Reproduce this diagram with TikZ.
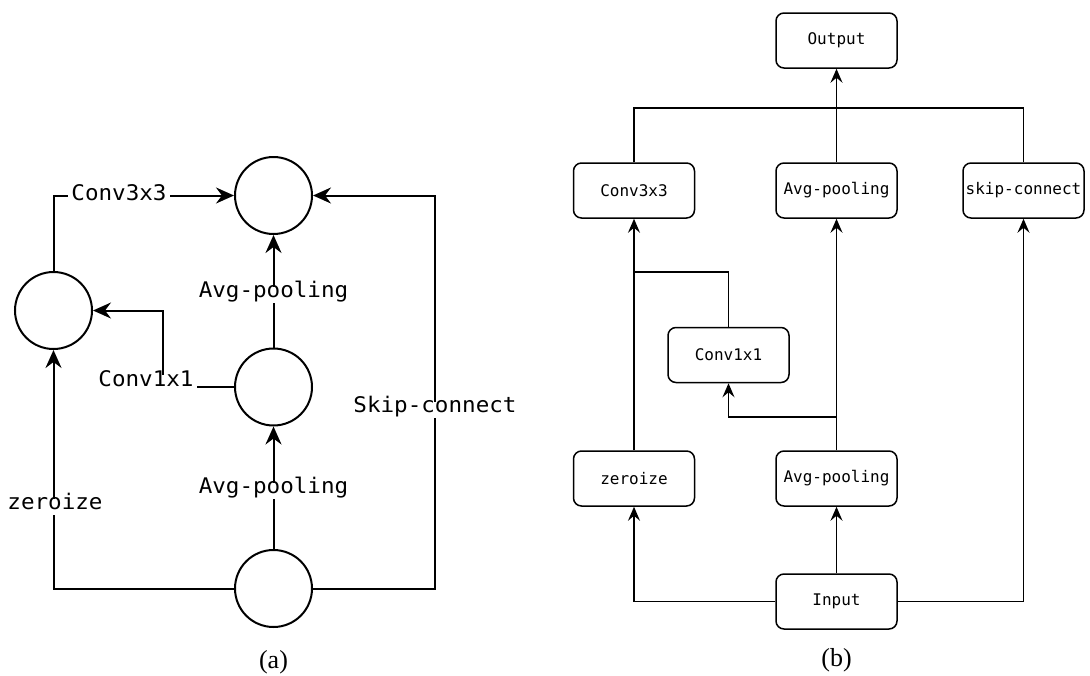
\documentclass[tikz,border=0pt]{standalone}
\usepackage{fontspec}
\setmainfont{Liberation Serif}
\newfontfamily\lblfont[FakeStretch=1.05]{DejaVu Sans Mono}
\newfontfamily\boxfont{DejaVu Sans Mono}
\usetikzlibrary{arrows.meta}
\tikzset{
  circ/.style={circle, draw, line width=2pt, minimum size=77pt, inner sep=0pt},
  lna/.style={line width=2pt},
  arra/.style={lna, -{Stealth[length=18pt,width=16pt,inset=6pt]}},
  lbl/.style={fill=white, inner sep=3pt, font=\lblfont\fontsize{21.5pt}{24pt}\selectfont, text height=0.78em, text depth=0.24em},
  bbox/.style={draw, rounded corners=8pt, line width=1.5pt, minimum width=121pt, minimum height=55pt, inner sep=2pt, font=\boxfont\fontsize{16pt}{19pt}\selectfont},
  lnb/.style={line width=1.5pt},
  arrb/.style={lnb, -{Stealth[length=14pt,width=12pt,inset=5pt]}},
  captxt/.style={font=\fontsize{26pt}{30pt}\selectfont, inner sep=0pt}
}
\begin{document}
\begin{tikzpicture}[x=1pt,y=-1pt]
\useasboundingbox (0,0) rectangle (1090,675);
% ---------- (a) ----------
\node[circ] (t) at (273.5,195.5) {};
\node[circ] (l) at (53.5,310.5) {};
\node[circ] (m) at (273.5,387) {};
\node[circ] (b) at (273.5,588.5) {};
\coordinate (ca) at (53.5,195.5);
\coordinate (sa) at (435,195.5);
\coordinate (ka) at (163,387);
\coordinate (kb) at (163,310.5);
\draw[arra] (l.north) -- (ca) -- (t.west);
\draw[arra] (b.east) -| (sa) -- (t.east);
\draw[arra] (b.west) -| (l.south);
\draw[arra] (b.north) -- (m.south);
\draw[arra] (m.north) -- (t.south);
\draw[arra] (m.west) -- (ka) -- (kb) -- (l.east);
\node[lbl] (lc3) at (119,197.5) {Conv3x3};
\node[lbl] (lsk) at (435,410) {Skip-connect};
\node[lbl] (lze) at (55,507) {zeroize};
\node[lbl] (lap1) at (273.5,491) {Avg-pooling};
\node[lbl] (lap2) at (273.5,295) {Avg-pooling};
\node[lbl, anchor=base] (lc1) at (146,386) {Conv1x1};
\node[captxt] (capa) at (273.5,662) {(a)};
% ---------- (b) ----------
\node[bbox] (out) at (836.5,40.5) {Output};
\node[bbox] (c3) at (634,190.5) {Conv3x3};
\node[bbox] (ap2) at (836.5,190.5) {Avg-pooling};
\node[bbox] (sk) at (1023.5,190.5) {skip-connect};
\node[bbox] (c1) at (728.5,355) {Conv1x1};
\node[bbox] (z) at (634,478.5) {zeroize};
\node[bbox] (ap1) at (836.5,478.5) {Avg-pooling};
\node[bbox] (in) at (836.5,601.5) {Input};
\coordinate (tb) at (634,108);
\coordinate (j1) at (634,272);
\coordinate (j2) at (836.5,417);
\draw[lnb] (c3.north) -- (tb) -| (sk.north);
\draw[arrb] (ap2.north) -- (out.south);
\draw[arrb] (z.north) -- (c3.south);
\draw[lnb] (j1) -| (c1.north);
\draw[arrb] (j2) -| (c1.south);
\draw[arrb] (ap1.north) -- (ap2.south);
\draw[arrb] (in.north) -- (ap1.south);
\draw[arrb] (in.west) -| (z.south);
\draw[arrb] (in.east) -| (sk.south);
\node[captxt] (capb) at (836.5,660) {(b)};
\end{tikzpicture}
\end{document}
